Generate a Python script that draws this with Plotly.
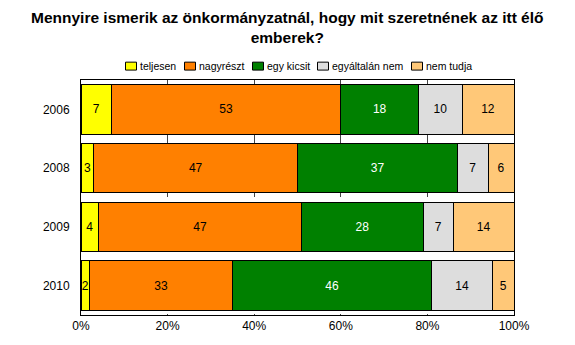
import plotly.graph_objects as go

years = ["2006", "2008", "2009", "2010"]
series_names = ["teljesen", "nagyrészt", "egy kicsit", "egyáltalán nem", "nem tudja"]
teljesen = [7, 3, 4, 2]
nagyreszt = [53, 47, 47, 33]
egy_kicsit = [18, 37, 28, 46]
egyaltalan_nem = [10, 7, 7, 14]
nem_tudja = [12, 6, 14, 5]
x_ticks = [0, 20, 40, 60, 80, 100]
x_tick_labels = ["0%", "20%", "40%", "60%", "80%", "100%"]

values = [teljesen, nagyreszt, egy_kicsit, egyaltalan_nem, nem_tudja]
colors = ["#FFFF00", "#FF8000", "#008000", "#DDDDDD", "#FFC878"]
text_colors = ["black", "black", "white", "black", "black"]

W, H = 575, 345
ML, MR, MT, MB = 81, 61, 80, 28
PW = W - ML - MR
PH = H - MT - MB
FONT = "Liberation Sans, Arial"

fig = go.Figure()
for name, vals, c, tc in zip(series_names, values, colors, text_colors):
    fig.add_trace(go.Bar(
        y=years, x=vals, name=name, orientation="h",
        marker=dict(color=c, line=dict(color="black", width=1)),
        text=[str(v) for v in vals], textposition="inside",
        insidetextanchor="middle", textangle=0,
        textfont=dict(color=tc, size=12, family=FONT),
        constraintext="none", showlegend=False,
    ))

# custom legend (small squares + labels), laid out in pixels
label_w = [35, 44, 41, 70, 44]  # approx text widths
sq, pad, gap = 11, 2, 11
total = sum(label_w) + len(label_w) * (sq + pad) + (len(label_w) - 1) * gap
px = 297 - total / 2
shapes = []
annotations = []
for name, c, lw in zip(series_names, colors, label_w):
    shapes.append(dict(type="rect", xref="paper", yref="paper",
                       x0=(px - ML) / PW, x1=(px + sq - ML) / PW,
                       y0=1 + (MT - 70) / PH, y1=1 + (MT - 62) / PH,
                       fillcolor=c, line=dict(color="black", width=1)))
    annotations.append(dict(text=name, xref="paper", yref="paper",
                            x=(px + sq + pad - ML) / PW, xanchor="left",
                            y=1 + (MT - 66) / PH, yanchor="middle",
                            showarrow=False, xshift=-1,
                            font=dict(size=10.5, family=FONT, color="black")))
    px += sq + pad + lw + gap

annotations.append(dict(
    text="<b>Mennyire ismerik az önkormányzatnál, hogy mit szeretnének az itt élő<br>emberek?</b>",
    xref="paper", yref="paper", x=(287 - ML) / PW, xanchor="center",
    y=1 + (MT - 27) / PH, yanchor="middle", showarrow=False,
    font=dict(size=15.5, family=FONT, color="black"),
))

fig.update_layout(
    barmode="stack",
    bargap=0.16,
    width=W, height=H,
    margin=dict(l=ML, r=MR, t=MT, b=MB),
    paper_bgcolor="white", plot_bgcolor="white",
    font=dict(family=FONT, size=12, color="black"),
    showlegend=False,
    shapes=shapes,
    annotations=annotations,
)
fig.update_xaxes(
    range=[0, 100], tickvals=x_ticks, ticktext=x_tick_labels,
    showgrid=True, gridcolor="#444444", griddash="dash", gridwidth=1,
    showline=True, linecolor="black", linewidth=1, mirror=True,
    ticks="", zeroline=False, tickfont=dict(size=12),
)
fig.update_yaxes(
    type="category", autorange="reversed",
    showline=True, linecolor="black", linewidth=1, mirror=True,
    ticks="", ticklabelstandoff=8, tickfont=dict(size=12),
)

fig.write_html("out.html")
